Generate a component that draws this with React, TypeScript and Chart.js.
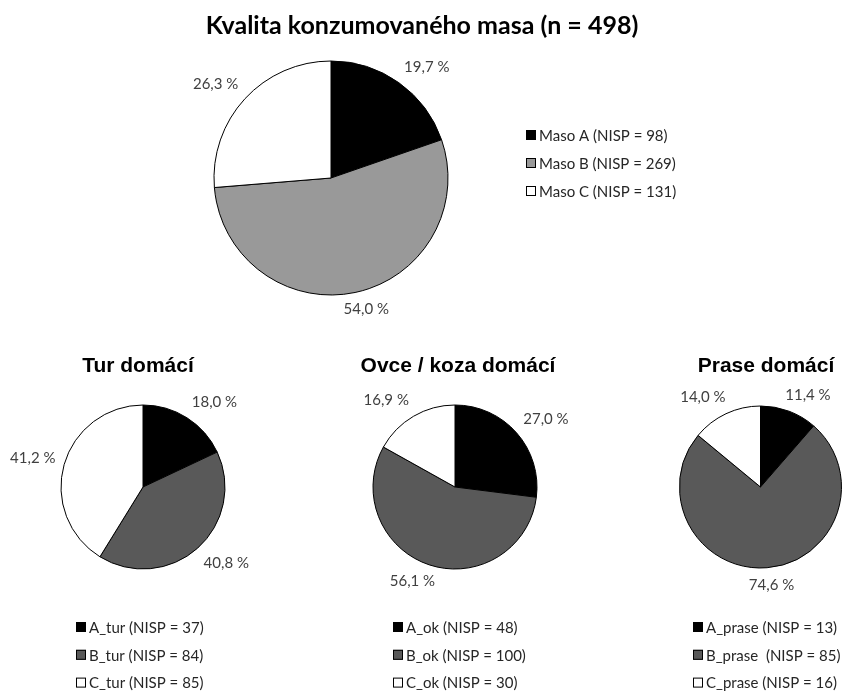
import React, { useEffect, useRef } from "react";
import { Chart, registerables } from "chart.js";

Chart.register(...registerables);

const W = 842;
const H = 691;

// ---- Data ----
const mainTitle = "Kvalita konzumovaného masa (n = 498)";
const mainCategories = ["Maso A", "Maso B", "Maso C"];
const mainNisp = [98, 269, 131];
const mainPercent = [19.7, 54.0, 26.3];

const turTitle = "Tur domácí";
const turCategories = ["A_tur", "B_tur", "C_tur"];
const turNisp = [37, 84, 85];
const turPercent = [18.0, 40.8, 41.2];

const okTitle = "Ovce / koza domácí";
const okCategories = ["A_ok", "B_ok", "C_ok"];
const okNisp = [48, 100, 30];
const okPercent = [27.0, 56.1, 16.9];

const praseTitle = "Prase domácí";
const praseCategories = ["A_prase", "B_prase ", "C_prase"];
const praseNisp = [13, 85, 16];
const prasePercent = [11.4, 74.6, 14.0];

// ---- Styles ----
const mainColors = ["#000000", "#999999", "#ffffff"];
const speciesColors = ["#000000", "#595959", "#ffffff"];

type PieSpec = {
  key: string;
  title: string;
  titleFont: string;
  titleX: number;
  titleY: number;
  categories: string[];
  nisp: number[];
  percent: number[];
  colors: string[];
  cx: number;
  cy: number;
  r: number;
  legendX: number;
  legendY: number;
  legendStep: number;
};

const subFont = "bold 21px 'Liberation Sans', Arial, sans-serif";

const specs: PieSpec[] = [
  {
    key: "main",
    title: mainTitle,
    titleFont: "bold 25px Lato",
    titleX: 422,
    titleY: 34,
    categories: mainCategories,
    nisp: mainNisp,
    percent: mainPercent,
    colors: mainColors,
    cx: 331,
    cy: 178,
    r: 117,
    legendX: 526,
    legendY: 135,
    legendStep: 28,
  },
  {
    key: "tur",
    title: turTitle,
    titleFont: subFont,
    titleX: 138,
    titleY: 372,
    categories: turCategories,
    nisp: turNisp,
    percent: turPercent,
    colors: speciesColors,
    cx: 143,
    cy: 487,
    r: 82,
    legendX: 76,
    legendY: 627,
    legendStep: 27.8,
  },
  {
    key: "ok",
    title: okTitle,
    titleFont: subFont,
    titleX: 458,
    titleY: 372,
    categories: okCategories,
    nisp: okNisp,
    percent: okPercent,
    colors: speciesColors,
    cx: 455,
    cy: 487,
    r: 82,
    legendX: 393,
    legendY: 627,
    legendStep: 27.8,
  },
  {
    key: "prase",
    title: praseTitle,
    titleFont: subFont,
    titleX: 766,
    titleY: 372,
    categories: praseCategories,
    nisp: praseNisp,
    percent: prasePercent,
    colors: speciesColors,
    cx: 761,
    cy: 487,
    r: 81,
    legendX: 693,
    legendY: 627,
    legendStep: 27.8,
  },
];

const clamp = (v: number) => Math.max(-1, Math.min(1, v));

const annotPlugin = {
  id: "annot",
  afterDatasetsDraw(chart: any, _args: any, opts: any) {
    const ctx: CanvasRenderingContext2D = chart.ctx;
    const meta = chart.getDatasetMeta(0);
    const data = chart.data.datasets[0].data as number[];
    const spec: PieSpec = opts.spec;
    ctx.save();

    // data labels (outside end)
    ctx.font = "15px Lato";
    ctx.fillStyle = "#404040";
    ctx.textAlign = "center";
    ctx.textBaseline = "middle";
    const h = 16;
    meta.data.forEach((arc: any, i: number) => {
      const p = arc.getProps(["x", "y", "startAngle", "endAngle", "outerRadius"], true);
      const mid = (p.startAngle + p.endAngle) / 2;
      const dx = Math.cos(mid);
      const dy = Math.sin(mid);
      const text = data[i].toFixed(1).replace(".", ",") + " %";
      const w = ctx.measureText(text).width;
      const d = p.outerRadius + 9;
      const ax = p.x + dx * d;
      const ay = p.y + dy * d;
      const fx = clamp(dx * 2);
      const fy = clamp(dy * 2);
      ctx.fillText(text, ax + (fx * w) / 2, ay + (fy * h) / 2);
    });

    // title
    ctx.font = spec.titleFont;
    ctx.fillStyle = "#000000";
    ctx.textAlign = "center";
    ctx.textBaseline = "alphabetic";
    ctx.fillText(spec.title, spec.titleX, spec.titleY);

    // legend
    ctx.font = "15px Lato";
    ctx.textAlign = "left";
    ctx.textBaseline = "middle";
    spec.categories.forEach((name, i) => {
      const y = spec.legendY + i * spec.legendStep;
      const x = spec.legendX;
      ctx.fillStyle = spec.colors[i];
      ctx.fillRect(x, y - 5, 10, 10);
      ctx.strokeStyle = "#000000";
      ctx.lineWidth = 1;
      ctx.strokeRect(x + 0.5, y - 4.5, 9, 9);
      ctx.fillStyle = "#262626";
      ctx.fillText(`${name} (NISP = ${spec.nisp[i]})`, x + 13, y + 1);
    });
    ctx.restore();
  },
};

function PieCanvas({ spec }: { spec: PieSpec }) {
  const ref = useRef<HTMLCanvasElement>(null);
  useEffect(() => {
    if (!ref.current) return;
    const half = spec.r + 1;
    const chart = new Chart(ref.current, {
      type: "pie",
      data: {
        labels: spec.categories,
        datasets: [
          {
            data: spec.percent,
            backgroundColor: spec.colors,
            borderColor: "#000000",
            borderWidth: 1,
            radius: spec.r,
          } as any,
        ],
      },
      options: {
        responsive: false,
        maintainAspectRatio: false,
        animation: false,
        events: [],
        layout: {
          padding: {
            left: spec.cx - half,
            right: W - (spec.cx + half),
            top: spec.cy - half,
            bottom: H - (spec.cy + half),
          },
        },
        plugins: {
          legend: { display: false },
          title: { display: false },
          tooltip: { enabled: false },
          annot: { spec },
        } as any,
      },
      plugins: [annotPlugin as any],
    });
    return () => chart.destroy();
  }, [spec]);
  return (
    <canvas
      ref={ref}
      width={W}
      height={H}
      style={{ position: "absolute", left: 0, top: 0, width: W, height: H }}
    />
  );
}

export default function App() {
  return (
    <div
      style={{
        position: "absolute",
        left: 0,
        top: 0,
        width: W,
        height: H,
        background: "#ffffff",
        overflow: "hidden",
      }}
    >
      {specs.map((s) => (
        <PieCanvas key={s.key} spec={s} />
      ))}
    </div>
  );
}
